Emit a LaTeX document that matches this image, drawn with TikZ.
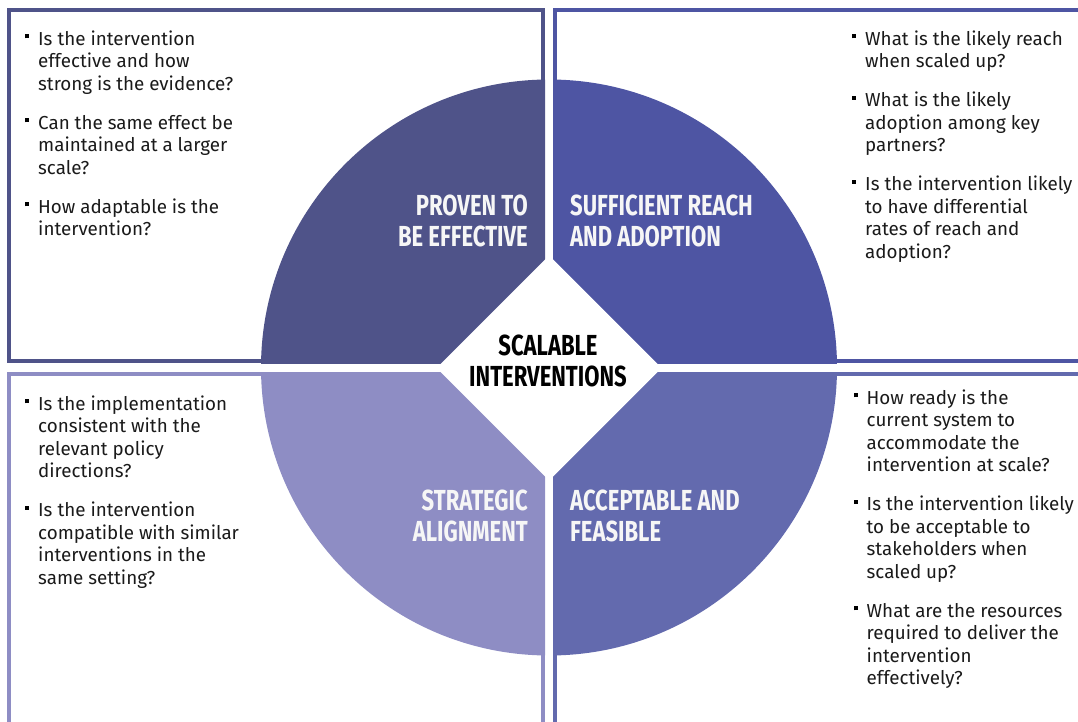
\documentclass[tikz,border=0pt]{standalone}
\usepackage{fontspec}
\setmainfont{Fira Sans}
\newfontfamily\labfont{Fira Sans}[FakeStretch=0.76]
\definecolor{cTL}{HTML}{4F5389}
\definecolor{cTR}{HTML}{4E55A3}
\definecolor{cBL}{HTML}{8E8DC4}
\definecolor{cBR}{HTML}{636AAE}
\definecolor{txt}{HTML}{1A1A1A}
\definecolor{labw}{HTML}{F6F6F6}
\newcommand{\bul}{\llap{\raisebox{6.8pt}{\color{black}\rule{4pt}{4pt}}\hspace{9pt}}}
\newcommand{\fr}{\rule{0pt}{16pt}}
\newcommand{\lr}{\rule{0pt}{22pt}}
\tikzset{
  frame/.style={line width=4pt},
  body/.style={anchor=north west, inner sep=0pt, align=left, text=txt,
    font=\fontsize{18.8}{22.5}\selectfont},
  lab/.style={inner sep=0pt, text=labw,
    font=\labfont\bfseries\fontsize{29}{31.5}\selectfont},
}
\begin{document}
\begin{tikzpicture}[x=1pt,y=-1pt]
\useasboundingbox (0,0) rectangle (1078,722);
\clip (0,0) rectangle (1078,722);
% frames
\draw[frame, draw=cTL] (9,10) rectangle (543,361);
\draw[frame, draw=cTR] (1090,10) -- (555,10) -- (555,361) -- (1090,361);
\draw[frame, draw=cBL] (9,740) -- (9,374) -- (543,374) -- (543,740);
\draw[frame, draw=cBR] (1090,374) -- (555,374) -- (555,740);
% quadrants
\begin{scope}\clip (0,0) rectangle (545,363); \fill[cTL] (549,367.5) circle (288pt); \end{scope}
\begin{scope}\clip (553,0) rectangle (1078,363); \fill[cTR] (549,367.5) circle (288pt); \end{scope}
\begin{scope}\clip (0,372) rectangle (545,722); \fill[cBL] (549,367.5) circle (288pt); \end{scope}
\begin{scope}\clip (553,372) rectangle (1078,722); \fill[cBR] (549,367.5) circle (288pt); \end{scope}
% diamond
\fill[white] (549,255.5) -- (661.5,368) -- (549,480.5) -- (436.5,368) -- cycle;
\node[lab, text=black, anchor=north, align=center] (ctr) at (548,333) {\lr SCALABLE\\INTERVENTIONS};
% labels
\node[lab, anchor=north east, align=right] (ltl) at (528,193) {\lr PROVEN TO\\BE EFFECTIVE};
\node[lab, anchor=north west, align=left] (ltr) at (570,193) {\lr SUFFICIENT REACH\\AND ADOPTION};
\node[lab, anchor=north east, align=right] (lbl) at (528,488) {\lr STRATEGIC\\ALIGNMENT};
\node[lab, anchor=north west, align=left] (lbr) at (570,488) {\lr ACCEPTABLE AND\\FEASIBLE};
% body text
\node[body] (ttl) at (38,29) {\fr\bul Is the intervention\\effective and how\\strong is the evidence?\\[16.5pt]
\bul Can the same effect be\\maintained at a larger\\scale?\\[16.5pt]
\bul How adaptable is the\\intervention?};
\node[body] (ttr) at (865,29) {\fr\bul What is the likely reach\\when scaled up?\\[16.5pt]
\bul What is the likely\\adoption among key\\partners?\\[16.5pt]
\bul Is the intervention likely\\to have differential\\rates of reach and\\adoption?};
\node[body] (tbl) at (38,394) {\fr\bul Is the implementation\\consistent with the\\relevant policy\\directions?\\[16.5pt]
\bul Is the intervention\\compatible with similar\\interventions in the\\same setting?};
\node[body] (tbr) at (866.5,388) {\fr\bul How ready is the\\current system to\\accommodate the\\intervention at scale?\\[16.5pt]
\bul Is the intervention likely\\to be acceptable to\\stakeholders when\\scaled up?\\[16.5pt]
\bul What are the resources\\required to deliver the\\intervention\\effectively?};
\end{tikzpicture}
\end{document}
